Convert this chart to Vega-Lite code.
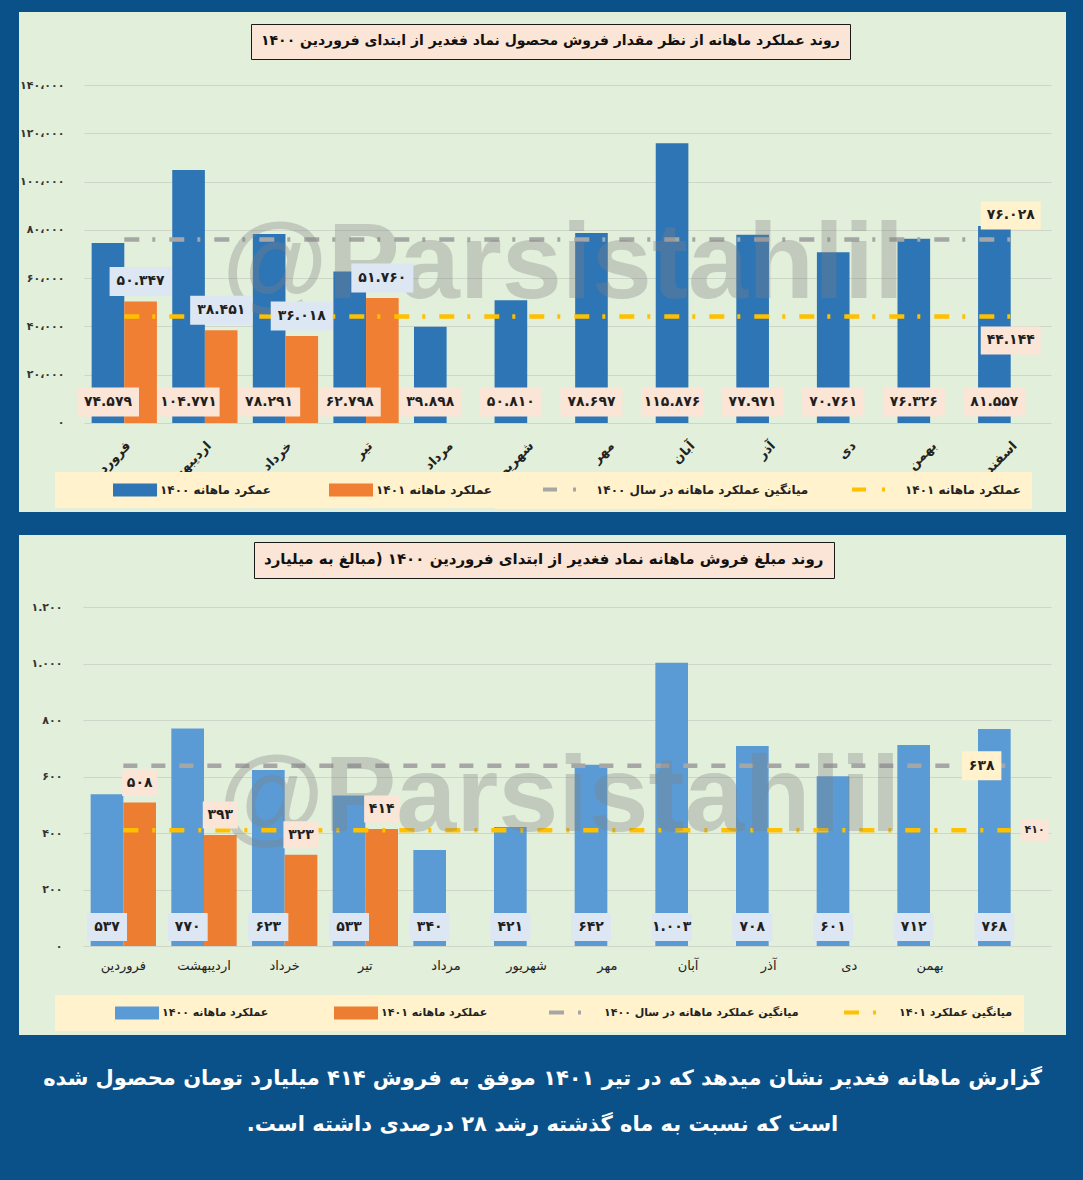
{
  "$schema": "https://vega.github.io/schema/vega-lite/v6.json",
  "background": "#0b5189",
  "padding": {"left": 19, "top": 12, "right": 17, "bottom": 45},
  "spacing": 23,
  "datasets": {
    "bars1": [
      {"month": "فروردین", "series": "b1400", "value": 74579, "label": "۷۴.۵۷۹"},
      {"month": "اردیبهشت", "series": "b1400", "value": 104771, "label": "۱۰۴.۷۷۱"},
      {"month": "خرداد", "series": "b1400", "value": 78291, "label": "۷۸.۲۹۱"},
      {"month": "تیر", "series": "b1400", "value": 62798, "label": "۶۲.۷۹۸"},
      {"month": "مرداد", "series": "b1400", "value": 39898, "label": "۳۹.۸۹۸"},
      {"month": "شهریور", "series": "b1400", "value": 50810, "label": "۵۰.۸۱۰"},
      {"month": "مهر", "series": "b1400", "value": 78697, "label": "۷۸.۶۹۷"},
      {"month": "آبان", "series": "b1400", "value": 115876, "label": "۱۱۵.۸۷۶"},
      {"month": "آذر", "series": "b1400", "value": 77971, "label": "۷۷.۹۷۱"},
      {"month": "دی", "series": "b1400", "value": 70761, "label": "۷۰.۷۶۱"},
      {"month": "بهمن", "series": "b1400", "value": 76326, "label": "۷۶.۳۲۶"},
      {"month": "اسفند", "series": "b1400", "value": 81557, "label": "۸۱.۵۵۷"},
      {"month": "فروردین", "series": "b1401", "value": 50347, "label": "۵۰.۳۴۷"},
      {"month": "اردیبهشت", "series": "b1401", "value": 38451, "label": "۳۸.۴۵۱"},
      {"month": "خرداد", "series": "b1401", "value": 36018, "label": "۳۶.۰۱۸"},
      {"month": "تیر", "series": "b1401", "value": 51760, "label": "۵۱.۷۶۰"}
    ],
    "avg1": [
      {"series": "avg1400", "value": 76028, "label": "۷۶.۰۲۸"},
      {"series": "avg1401", "value": 44144, "label": "۴۴.۱۴۴"}
    ],
    "bars2": [
      {"month": "فروردین", "series": "b1400", "value": 537, "label": "۵۳۷"},
      {"month": "اردیبهشت", "series": "b1400", "value": 770, "label": "۷۷۰"},
      {"month": "خرداد", "series": "b1400", "value": 623, "label": "۶۲۳"},
      {"month": "تیر", "series": "b1400", "value": 533, "label": "۵۳۳"},
      {"month": "مرداد", "series": "b1400", "value": 340, "label": "۳۴۰"},
      {"month": "شهریور", "series": "b1400", "value": 421, "label": "۴۲۱"},
      {"month": "مهر", "series": "b1400", "value": 642, "label": "۶۴۲"},
      {"month": "آبان", "series": "b1400", "value": 1003, "label": "۱.۰۰۳"},
      {"month": "آذر", "series": "b1400", "value": 708, "label": "۷۰۸"},
      {"month": "دی", "series": "b1400", "value": 601, "label": "۶۰۱"},
      {"month": "بهمن", "series": "b1400", "value": 712, "label": "۷۱۲"},
      {"month": "اسفند", "series": "b1400", "value": 768, "label": "۷۶۸"},
      {"month": "فروردین", "series": "b1401", "value": 508, "label": "۵۰۸"},
      {"month": "اردیبهشت", "series": "b1401", "value": 393, "label": "۳۹۳"},
      {"month": "خرداد", "series": "b1401", "value": 323, "label": "۳۲۳"},
      {"month": "تیر", "series": "b1401", "value": 414, "label": "۴۱۴"}
    ],
    "avg2": [
      {"series": "avg1400", "value": 638, "label": "۶۳۸"},
      {"series": "avg1401", "value": 410, "label": "۴۱۰"}
    ],
    "wm": [{"t": "@Parsistahlil"}]
  },
  "title": {
    "text": ["گزارش ماهانه فغدیر نشان میدهد که در تیر ۱۴۰۱ موفق به فروش ۴۱۴ میلیارد تومان محصول شده", "است که نسبت به ماه گذشته رشد ۲۸ درصدی داشته است.‏"],
    "orient": "bottom",
    "anchor": "middle",
    "color": "#ffffff",
    "font": "DejaVu Sans",
    "fontSize": 21,
    "fontWeight": "bold",
    "lineHeight": 46,
    "offset": 33
  },
  "vconcat": [
    {
      "width": 1047,
      "height": 500,
      "layer": [
        {
          "data": {"name": "bars1"},
          "mark": {"type": "bar"},
          "encoding": {
            "x": {
              "field": "month", "type": "nominal", "sort": null,
              "scale": {"domain": ["فروردین","اردیبهشت","خرداد","تیر","مرداد","شهریور","مهر","آبان","آذر","دی","بهمن","اسفند"], "range": [65, 1032], "paddingInner": 0.19, "paddingOuter": 0.095},
              "axis": {"orient": "bottom", "offset": -89, "domain": false, "ticks": false, "grid": false, "title": null, "labelAngle": -45, "labelPadding": 16, "labelFontSize": 13, "labelFontWeight": "bold", "labelColor": "#222222"}
            },
            "xOffset": {"field": "series", "type": "nominal", "scale": {"domain": ["b1400", "b1401"], "paddingInner": 0}},
            "y": {
              "field": "value", "type": "quantitative",
              "scale": {"domain": [-36864, 170237], "nice": false, "zero": false},
              "axis": {"orient": "left", "offset": -47, "values": [0, 20000, 40000, 60000, 80000, 100000, 120000, 140000], "labelExpr": "replace(replace(replace(replace(replace(replace(replace(replace(replace(replace(replace(format(datum.value, ','), ',', '،'), regexp('0','g'), '۰'), regexp('1','g'), '۱'), regexp('2','g'), '۲'), regexp('3','g'), '۳'), regexp('4','g'), '۴'), regexp('5','g'), '۵'), regexp('6','g'), '۶'), regexp('7','g'), '۷'), regexp('8','g'), '۸'), regexp('9','g'), '۹')", "domain": false, "ticks": false, "labelPadding": 2, "labelFontSize": 11, "labelFontWeight": "bold", "labelColor": "#333333", "grid": true, "gridColor": "#cdd6c9", "title": null}
            },
            "fill": {
              "field": "series", "type": "nominal",
              "scale": {"domain": ["b1400", "b1401"], "range": ["#2e75b6", "#f07f34"]},
              "legend": {
                "orient": "none", "legendX": 36, "legendY": 460,
                "direction": "horizontal", "gridAlign": "none", "columnPadding": 57,
                "title": ".", "titleFontSize": 4, "titleOpacity": 0, "titleOrient": "left", "titlePadding": 45,
                "fillColor": "#fff2cc", "padding": 11,
                "symbolType": "M-1,-0.93L5.29,-0.93L5.29,0.93L-1,0.93Z", "symbolSize": 196, "symbolStrokeWidth": 0, "symbolOpacity": 1,
                "labelOffset": 33, "labelFontSize": 12, "labelFontWeight": "bold", "labelColor": "#222222", "labelLimit": 400,
                "labelExpr": "datum.value == 'b1400' ? 'عمکرد ماهانه ۱۴۰۰' : 'عملکرد ماهانه ۱۴۰۱'"
              }
            }
          }
        },
        {
          "data": {"name": "avg1"},
          "mark": {"type": "rule", "strokeWidth": 4.5, "strokeDash": [15, 13, 3, 14], "strokeCap": "butt"},
          "encoding": {
            "x": {"datum": "فروردین", "bandPosition": 0.5},
            "x2": {"datum": "اسفند", "bandPosition": 0.5},
            "y": {"field": "value", "type": "quantitative"},
            "stroke": {
              "field": "series", "type": "nominal",
              "scale": {"domain": ["avg1400", "avg1401"], "range": ["#a6a6a6", "#ffc000"]},
              "legend": {
                "orient": "none", "legendX": 476, "legendY": 460,
                "direction": "horizontal", "gridAlign": "none", "columnPadding": 35,
                "title": ".", "titleFontSize": 4, "titleOpacity": 0, "titleOrient": "left", "titlePadding": 33,
                "fillColor": "#fff2cc", "padding": 11,
                "symbolType": "M-1,0L6.67,0", "symbolSize": 81, "symbolStrokeWidth": 4, "symbolDash": [14, 16, 3, 60], "symbolOpacity": 1,
                "labelOffset": 42, "labelFontSize": 12, "labelFontWeight": "bold", "labelColor": "#222222", "labelLimit": 400,
                "labelExpr": "datum.value == 'avg1400' ? 'میانگین عملکرد ماهانه در سال ۱۴۰۰' : 'عملکرد ماهانه ۱۴۰۱'"
              }
            }
          }
        },
        {
          "data": {"name": "wm"},
          "mark": {"type": "text", "font": "Liberation Sans", "fontSize": 108, "fontWeight": "bold", "color": "#808080", "align": "center", "baseline": "middle", "xOffset": -12},
          "encoding": {
            "x": {"datum": "مهر", "bandPosition": 0},
            "y": {"datum": 65000},
            "text": {"field": "t"},
            "opacity": {
              "datum": "title",
              "scale": {"type": "ordinal", "domain": ["title"], "range": [0.33]},
              "legend": {
                "title": "روند عملکرد ماهانه از نظر مقدار فروش محصول نماد فغدیر از ابتدای فروردین ۱۴۰۰",
                "orient": "none", "legendX": 232, "legendY": 12,
                "titleOrient": "top", "titlePadding": 0, "titleFontSize": 14, "titleFontWeight": "bold", "titleColor": "#111111", "titleLimit": 1200,
                "padding": 10, "fillColor": "#fbe5d6", "strokeColor": "#1a1a1a",
                "symbolSize": 0, "symbolOpacity": 0, "symbolStrokeWidth": 0, "labelExpr": "''", "labelFontSize": 1, "labelOffset": 0,
                "encode": {"legend": {"update": {"strokeWidth": {"value": 1.5}}}}
              }
            }
          }
        },
        {
          "data": {"name": "bars1"},
          "transform": [{"filter": "datum.series == 'b1400'"}],
          "mark": {"type": "point", "shape": "M-2.14,-1L2.14,-1L2.14,1L-2.14,1Z", "size": 841, "filled": true, "color": "#fbe5d6", "opacity": 1, "strokeWidth": 0, "yOffset": -21},
          "encoding": {
            "x": {"field": "month", "type": "nominal"},
            "xOffset": {"field": "series", "type": "nominal"},
            "y": {"datum": 0}
          }
        },
        {
          "data": {"name": "bars1"},
          "transform": [{"filter": "datum.series == 'b1400'"}],
          "mark": {"type": "text", "fontSize": 14, "fontWeight": "bold", "color": "#1f1f1f", "align": "center", "baseline": "middle", "yOffset": -21},
          "encoding": {
            "x": {"field": "month", "type": "nominal"},
            "xOffset": {"field": "series", "type": "nominal"},
            "y": {"datum": 0},
            "text": {"field": "label"}
          }
        },
        {
          "data": {"name": "bars1"},
          "transform": [{"filter": "datum.series == 'b1401'"}],
          "mark": {"type": "point", "shape": "M-2.14,-1L2.14,-1L2.14,1L-2.14,1Z", "size": 841, "filled": true, "color": "#dde7f3", "opacity": 1, "strokeWidth": 0, "yOffset": -20},
          "encoding": {
            "x": {"field": "month", "type": "nominal"},
            "xOffset": {"field": "series", "type": "nominal"},
            "y": {"field": "value", "type": "quantitative"}
          }
        },
        {
          "data": {"name": "bars1"},
          "transform": [{"filter": "datum.series == 'b1401'"}],
          "mark": {"type": "text", "fontSize": 14, "fontWeight": "bold", "color": "#1f1f1f", "align": "center", "baseline": "middle", "yOffset": -20},
          "encoding": {
            "x": {"field": "month", "type": "nominal"},
            "xOffset": {"field": "series", "type": "nominal"},
            "y": {"field": "value", "type": "quantitative"},
            "text": {"field": "label"}
          }
        },
        {
          "data": {"name": "avg1"},
          "transform": [{"filter": "datum.series == 'avg1400'"}],
          "mark": {"type": "point", "shape": "M-2.14,-1L2.14,-1L2.14,1L-2.14,1Z", "size": 784, "filled": true, "color": "#fff2cc", "opacity": 1, "strokeWidth": 0, "yOffset": -24},
          "encoding": {"x": {"datum": "اسفند"}, "y": {"field": "value", "type": "quantitative"}}
        },
        {
          "data": {"name": "avg1"},
          "transform": [{"filter": "datum.series == 'avg1400'"}],
          "mark": {"type": "text", "fontSize": 14, "fontWeight": "bold", "color": "#1f1f1f", "align": "center", "baseline": "middle", "yOffset": -24},
          "encoding": {"x": {"datum": "اسفند"}, "y": {"field": "value", "type": "quantitative"}, "text": {"field": "label"}}
        },
        {
          "data": {"name": "avg1"},
          "transform": [{"filter": "datum.series == 'avg1401'"}],
          "mark": {"type": "point", "shape": "M-2.14,-1L2.14,-1L2.14,1L-2.14,1Z", "size": 784, "filled": true, "color": "#fbe5d6", "opacity": 1, "strokeWidth": 0, "yOffset": 24},
          "encoding": {"x": {"datum": "اسفند"}, "y": {"field": "value", "type": "quantitative"}}
        },
        {
          "data": {"name": "avg1"},
          "transform": [{"filter": "datum.series == 'avg1401'"}],
          "mark": {"type": "text", "fontSize": 14, "fontWeight": "bold", "color": "#1f1f1f", "align": "center", "baseline": "middle", "yOffset": 24},
          "encoding": {"x": {"datum": "اسفند"}, "y": {"field": "value", "type": "quantitative"}, "text": {"field": "label"}}
        }
      ]
    },
    {
      "width": 1047,
      "height": 500,
      "layer": [
        {
          "data": {"name": "bars2"},
          "mark": {"type": "bar"},
          "encoding": {
            "x": {
              "field": "month", "type": "nominal", "sort": null,
              "scale": {"domain": ["فروردین","اردیبهشت","خرداد","تیر","مرداد","شهریور","مهر","آبان","آذر","دی","بهمن","اسفند"], "range": [64, 1032], "paddingInner": 0.19, "paddingOuter": 0.095},
              "axis": {"orient": "bottom", "offset": -89, "domain": false, "ticks": false, "grid": false, "title": null, "labelAngle": 0, "labelPadding": 13, "labelFontSize": 13, "labelColor": "#222222", "labelExpr": "datum.value == 'اسفند' ? '' : datum.value"}
            },
            "xOffset": {"field": "series", "type": "nominal", "scale": {"domain": ["b1400", "b1401"], "paddingInner": 0}},
            "y": {
              "field": "value", "type": "quantitative",
              "scale": {"domain": [-315, 1455], "nice": false, "zero": false},
              "axis": {"orient": "left", "offset": -45, "values": [0, 200, 400, 600, 800, 1000, 1200], "labelExpr": "replace(replace(replace(replace(replace(replace(replace(replace(replace(replace(replace(format(datum.value, ','), ',', '.'), regexp('0','g'), '۰'), regexp('1','g'), '۱'), regexp('2','g'), '۲'), regexp('3','g'), '۳'), regexp('4','g'), '۴'), regexp('5','g'), '۵'), regexp('6','g'), '۶'), regexp('7','g'), '۷'), regexp('8','g'), '۸'), regexp('9','g'), '۹')", "domain": false, "ticks": false, "labelPadding": 2, "labelFontSize": 11, "labelFontWeight": "bold", "labelColor": "#333333", "grid": true, "gridColor": "#cdd6c9", "title": null}
            },
            "fill": {
              "field": "series", "type": "nominal",
              "scale": {"domain": ["b1400", "b1401"], "range": ["#5b9bd5", "#ed7d31"]},
              "legend": {
                "orient": "none", "legendX": 36, "legendY": 460,
                "direction": "horizontal", "gridAlign": "none", "columnPadding": 65,
                "title": ".", "titleFontSize": 4, "titleOpacity": 0, "titleOrient": "left", "titlePadding": 47,
                "fillColor": "#fff2cc", "padding": 11,
                "symbolType": "M-1,-0.93L5.29,-0.93L5.29,0.93L-1,0.93Z", "symbolSize": 196, "symbolStrokeWidth": 0, "symbolOpacity": 1,
                "labelOffset": 33, "labelFontSize": 11, "labelFontWeight": "bold", "labelColor": "#222222", "labelLimit": 400,
                "labelExpr": "datum.value == 'b1400' ? 'عملکرد ماهانه ۱۴۰۰' : 'عملکرد ماهانه ۱۴۰۱'"
              }
            }
          }
        },
        {
          "data": {"name": "avg2"},
          "transform": [{"filter": "datum.series == 'avg1400'"}],
          "mark": {"type": "rule", "strokeWidth": 4.5, "strokeDash": [14, 14], "strokeCap": "butt"},
          "encoding": {
            "x": {"datum": "فروردین", "bandPosition": 0.5},
            "x2": {"datum": "اسفند", "bandPosition": 0.5},
            "y": {"field": "value", "type": "quantitative"},
            "stroke": {
              "field": "series", "type": "nominal",
              "scale": {"domain": ["avg1400", "avg1401"], "range": ["#a6a6a6", "#ffc000"]},
              "legend": {
                "orient": "none", "legendX": 471, "legendY": 460,
                "direction": "horizontal", "gridAlign": "none", "columnPadding": 37,
                "title": ".", "titleFontSize": 4, "titleOpacity": 0, "titleOrient": "left", "titlePadding": 44,
                "fillColor": "#fff2cc", "padding": 11,
                "symbolType": "M-1,0L8.1,0", "symbolSize": 81, "symbolStrokeWidth": 4, "symbolDash": [15, 14, 3, 60], "symbolOpacity": 1,
                "labelOffset": 44, "labelFontSize": 11, "labelFontWeight": "bold", "labelColor": "#222222", "labelLimit": 400,
                "labelExpr": "datum.value == 'avg1400' ? 'میانگین عملکرد ماهانه در سال ۱۴۰۰' : 'میانگین عملکرد ۱۴۰۱'"
              }
            }
          }
        },
        {
          "data": {"name": "avg2"},
          "transform": [{"filter": "datum.series == 'avg1401'"}],
          "mark": {"type": "rule", "strokeWidth": 4.5, "strokeDash": [15, 14, 3, 14], "strokeCap": "butt"},
          "encoding": {
            "x": {"datum": "فروردین", "bandPosition": 0.5},
            "x2": {"datum": "اسفند", "bandPosition": 0.5},
            "y": {"field": "value", "type": "quantitative"},
            "stroke": {"field": "series", "type": "nominal"}
          }
        },
        {
          "data": {"name": "wm"},
          "mark": {"type": "text", "font": "Liberation Sans", "fontSize": 108, "fontWeight": "bold", "color": "#808080", "align": "center", "baseline": "middle", "xOffset": -15},
          "encoding": {
            "x": {"datum": "مهر", "bandPosition": 0},
            "y": {"datum": 520},
            "text": {"field": "t"},
            "opacity": {
              "datum": "title",
              "scale": {"type": "ordinal", "domain": ["title"], "range": [0.33]},
              "legend": {
                "title": "روند مبلغ فروش ماهانه نماد فغدیر از ابتدای فروردین ۱۴۰۰ (مبالغ به میلیارد",
                "orient": "none", "legendX": 235, "legendY": 7,
                "titleOrient": "top", "titlePadding": 0, "titleFontSize": 15, "titleFontWeight": "bold", "titleColor": "#111111", "titleLimit": 1200,
                "padding": 10, "fillColor": "#fbe5d6", "strokeColor": "#1a1a1a",
                "symbolSize": 0, "symbolOpacity": 0, "symbolStrokeWidth": 0, "labelExpr": "''", "labelFontSize": 1, "labelOffset": 0,
                "encode": {"legend": {"update": {"strokeWidth": {"value": 1.5}}}}
              }
            }
          }
        },
        {
          "data": {"name": "bars2"},
          "transform": [{"filter": "datum.series == 'b1400'"}],
          "mark": {"type": "point", "shape": "M-1.43,-1L1.43,-1L1.43,1L-1.43,1Z", "size": 784, "filled": true, "color": "#dde7f3", "opacity": 1, "strokeWidth": 0, "yOffset": -19},
          "encoding": {
            "x": {"field": "month", "type": "nominal"},
            "xOffset": {"field": "series", "type": "nominal"},
            "y": {"datum": 0}
          }
        },
        {
          "data": {"name": "bars2"},
          "transform": [{"filter": "datum.series == 'b1400'"}],
          "mark": {"type": "text", "fontSize": 14, "fontWeight": "bold", "color": "#1f1f1f", "align": "center", "baseline": "middle", "yOffset": -19},
          "encoding": {
            "x": {"field": "month", "type": "nominal"},
            "xOffset": {"field": "series", "type": "nominal"},
            "y": {"datum": 0},
            "text": {"field": "label"}
          }
        },
        {
          "data": {"name": "bars2"},
          "transform": [{"filter": "datum.series == 'b1401'"}],
          "mark": {"type": "point", "shape": "M-1.3,-1L1.3,-1L1.3,1L-1.3,1Z", "size": 729, "filled": true, "color": "#fbe5d6", "opacity": 1, "strokeWidth": 0, "yOffset": -20},
          "encoding": {
            "x": {"field": "month", "type": "nominal"},
            "xOffset": {"field": "series", "type": "nominal"},
            "y": {"field": "value", "type": "quantitative"}
          }
        },
        {
          "data": {"name": "bars2"},
          "transform": [{"filter": "datum.series == 'b1401'"}],
          "mark": {"type": "text", "fontSize": 14, "fontWeight": "bold", "color": "#1f1f1f", "align": "center", "baseline": "middle", "yOffset": -20},
          "encoding": {
            "x": {"field": "month", "type": "nominal"},
            "xOffset": {"field": "series", "type": "nominal"},
            "y": {"field": "value", "type": "quantitative"},
            "text": {"field": "label"}
          }
        },
        {
          "data": {"name": "avg2"},
          "transform": [{"filter": "datum.series == 'avg1400'"}],
          "mark": {"type": "point", "shape": "M-1.36,-1L1.36,-1L1.36,1L-1.36,1Z", "size": 841, "filled": true, "color": "#fff2cc", "opacity": 1, "strokeWidth": 0, "xOffset": -29},
          "encoding": {"x": {"datum": "اسفند"}, "y": {"field": "value", "type": "quantitative"}}
        },
        {
          "data": {"name": "avg2"},
          "transform": [{"filter": "datum.series == 'avg1400'"}],
          "mark": {"type": "text", "fontSize": 14, "fontWeight": "bold", "color": "#1f1f1f", "align": "center", "baseline": "middle", "xOffset": -29},
          "encoding": {"x": {"datum": "اسفند"}, "y": {"field": "value", "type": "quantitative"}, "text": {"field": "label"}}
        },
        {
          "data": {"name": "avg2"},
          "transform": [{"filter": "datum.series == 'avg1401'"}],
          "mark": {"type": "point", "shape": "M-1.27,-1L1.27,-1L1.27,1L-1.27,1Z", "size": 484, "filled": true, "color": "#fbe5d6", "opacity": 1, "strokeWidth": 0, "xOffset": 24},
          "encoding": {"x": {"datum": "اسفند"}, "y": {"field": "value", "type": "quantitative"}}
        },
        {
          "data": {"name": "avg2"},
          "transform": [{"filter": "datum.series == 'avg1401'"}],
          "mark": {"type": "text", "fontSize": 11, "fontWeight": "bold", "color": "#1f1f1f", "align": "center", "baseline": "middle", "xOffset": 24},
          "encoding": {"x": {"datum": "اسفند"}, "y": {"field": "value", "type": "quantitative"}, "text": {"field": "label"}}
        }
      ]
    }
  ],
  "resolve": {
    "scale": {"fill": "independent", "stroke": "independent", "opacity": "independent", "x": "independent", "y": "independent", "xOffset": "independent"},
    "legend": {"fill": "independent", "stroke": "independent", "opacity": "independent"}
  },
  "config": {
    "view": {"fill": "#e2efda", "stroke": null},
    "font": "DejaVu Sans",
    "axis": {"labelFont": "DejaVu Sans"},
    "legend": {"labelFont": "DejaVu Sans", "titleFont": "DejaVu Sans"},
    "text": {"font": "DejaVu Sans"},
    "bar": {"stroke": null}
  }
}
